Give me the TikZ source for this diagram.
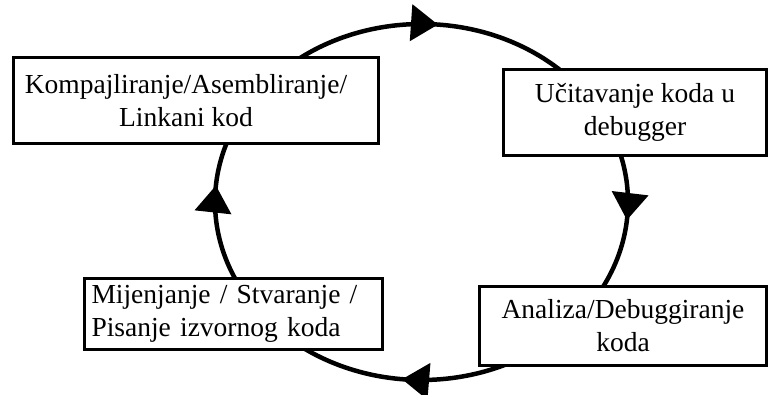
\documentclass[tikz,border=0pt]{standalone}
\usepackage{fontspec}
\setmainfont{Liberation Serif}
\usepackage{tikz}
\usetikzlibrary{calc}
\usetikzlibrary{arrows.meta,decorations.markings}
\tikzstyle{kutija}=[draw,line width=3.5pt,fill=white,inner sep=0pt,align=center,font=\fontsize{27.5pt}{33pt}\selectfont]
\tikzstyle{luk}=[line width=4.5pt]
\tikzset{strelica/.style={postaction={decorate,decoration={markings,mark=at position #1 with {\arrow{Triangle[width=36pt,length=27pt]}}}}}}

\begin{document}
\begin{tikzpicture}[x=1pt,y=1pt]

	\useasboundingbox (0,0) rectangle (770,394);
	\coordinate (c) at (421.5,192);
	\coordinate (k1) at ($(c)+(127.9:206.5pt and 178pt)$);
	\coordinate (u1) at ($(c)+(17.6:206.5pt and 178pt)$);
	\coordinate (a1) at ($(c)+(-65:206.5pt and 178pt)$);
	\coordinate (m1) at ($(c)+(-152.1:206.5pt and 178pt)$);

	\draw[luk,strelica=0.52] (k1) arc[start angle=127.9,end angle=45.8,x radius=206.5pt,y radius=178pt];
	\draw[luk,strelica=0.48] (u1) arc[start angle=17.6,end angle=-30.8,x radius=206.5pt,y radius=178pt];
	\draw[luk,strelica=0.50] (a1) arc[start angle=-65,end angle=-126.2,x radius=206.5pt,y radius=178pt];
	\draw[luk,strelica=0.67] (m1) arc[start angle=-152.1,end angle=-201.7,x radius=206.5pt,y radius=178pt];

	\draw node [kutija,minimum width=365pt,minimum height=86pt] (komp) at (196,293.5) {Kompajliranje/Asembliranje/\hspace*{20pt}\\Linkani kod\hspace*{20pt}};
	\draw node [kutija,minimum width=263pt,minimum height=86pt] (ucit) at (635,281.5) {Učitavanje koda u\\debugger};
	\draw node [kutija,minimum width=287pt,minimum height=79pt] (anal) at (623,68) {Analiza/Debuggiranje\\koda};
	\draw node [kutija,align=left,text width=284pt,minimum width=298pt,minimum height=71pt] (mijen) at (233.5,80) {Mijenjanje / Stvaranje /\\Pisanje izvornog koda};

\end{tikzpicture}
\end{document}
